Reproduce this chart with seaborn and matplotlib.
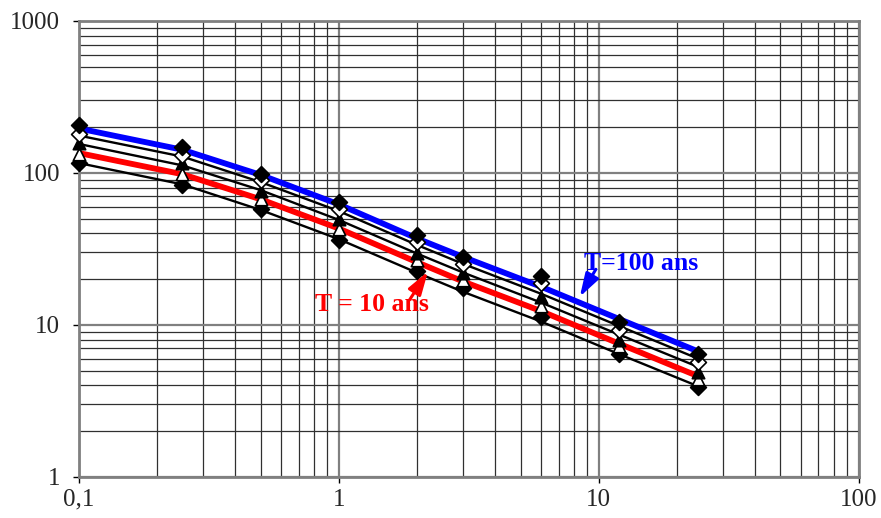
import matplotlib
matplotlib.use("Agg")
import matplotlib.pyplot as plt
import matplotlib.ticker as mticker
import numpy as np
import pandas as pd
import seaborn as sns

# Durées (h) et intensités
durees = [0.1, 0.25, 0.5, 1, 2, 3, 6, 12, 24]

# Points observés (du haut vers le bas)
obs_t100 = [207, 147, 98, 64.6, 39.0, 28.1, 21.0, 10.5, 6.4]
obs_t50 = [180, 131, 90, 57.6, 35.2, 25.1, 18.8, 9.2, 5.7]
obs_t20 = [157, 116, 76, 49.5, 29.8, 21.8, 15.2, 8.0, 4.9]
obs_t10 = [133, 98, 67, 42.6, 26.7, 19.7, 13.2, 7.2, 4.4]
obs_t5 = [116, 83, 58, 36.2, 22.7, 17.4, 11.3, 6.4, 3.9]

# Courbes ajustées
fit_t100 = [196, 142, 97, 62, 37, 28, 17.8, 10.9, 6.7]
fit_t50 = [176, 128, 87, 56, 33.5, 25.2, 16.0, 9.8, 6.0]
fit_t20 = [155, 112, 77, 49, 29.4, 22.1, 14.0, 8.6, 5.3]
fit_t10 = [135, 98, 67, 43, 25.8, 19.3, 12.3, 7.5, 4.6]
fit_t5 = [116, 84, 57, 36.6, 22.0, 16.5, 10.5, 6.4, 3.95]

x_ticks = [0.1, 1, 10, 100]
x_labels = ["0,1", "1", "10", "100"]
y_ticks = [1, 10, 100, 1000]
y_labels = ["1", "10", "100", "1000"]

series = [
    # (fit, obs, line colour, line width, marker, filled)
    (fit_t5, obs_t5, "black", 1.7, "D", True),
    (fit_t10, obs_t10, "#ff0000", 4.2, "^", False),
    (fit_t20, obs_t20, "black", 1.7, "^", True),
    (fit_t50, obs_t50, "black", 1.7, "D", False),
    (fit_t100, obs_t100, "#0000ff", 4.2, "D", True),
]

sns.set_style("white")
plt.rcParams["font.family"] = ["Liberation Serif", "DejaVu Serif"]

fig = plt.figure(figsize=(8.81, 5.18), dpi=100)
ax = fig.add_axes([0.0897, 0.0797, 0.885, 0.8798])

for fit, obs, col, lw, mk, filled in series:
    df_fit = pd.DataFrame({"t": durees, "i": fit})
    sns.lineplot(data=df_fit, x="t", y="i", color=col, lw=lw, ax=ax, zorder=3)

for fit, obs, col, lw, mk, filled in series:
    df_obs = pd.DataFrame({"t": durees, "i": obs})
    sns.scatterplot(
        data=df_obs, x="t", y="i", marker=mk, s=65 if mk == "D" else 80,
        color="black" if filled else "white", edgecolor="black",
        linewidth=1.2, ax=ax, zorder=4, clip_on=False,
    )

ax.set_xscale("log")
ax.set_yscale("log")
ax.set_xlim(0.1, 100)
ax.set_ylim(1, 1000)

ax.xaxis.set_major_locator(mticker.FixedLocator(x_ticks))
ax.xaxis.set_major_formatter(mticker.FixedFormatter(x_labels))
ax.yaxis.set_major_locator(mticker.FixedLocator(y_ticks))
ax.yaxis.set_major_formatter(mticker.FixedFormatter(y_labels))
ax.xaxis.set_minor_locator(mticker.LogLocator(base=10, subs=np.arange(2, 10)))
ax.yaxis.set_minor_locator(mticker.LogLocator(base=10, subs=np.arange(2, 10)))
ax.xaxis.set_minor_formatter(mticker.NullFormatter())
ax.yaxis.set_minor_formatter(mticker.NullFormatter())

ax.grid(True, which="major", color="#808080", lw=1.6, zorder=0)
ax.grid(True, which="minor", color="#303030", lw=0.9, zorder=0)
ax.tick_params(which="major", direction="out", length=4.5, width=1,
               color="black", labelsize=18, pad=4, left=True, bottom=True)
ax.tick_params(axis="y", which="major", pad=9)
ax.tick_params(which="minor", length=0)
for sp in ax.spines.values():
    sp.set_color("#808080")
    sp.set_linewidth(2)

ax.set_xlabel("")
ax.set_ylabel("")

# Annotations
arrow_style = "-|>,head_length=0.7,head_width=0.22"
ax.text(1.34, 13.7, "T = 10 ans", color="#ff0000", fontsize=18.5,
        fontweight="bold", ha="center", va="center", zorder=5)
ax.annotate("", xy=(2.2, 22.4), xytext=(1.87, 14.6),
            arrowprops=dict(arrowstyle=arrow_style, color="#ff0000", lw=2.2,
                            mutation_scale=20, shrinkA=0, shrinkB=0), zorder=5)
ax.text(14.5, 25.3, "T=100 ans", color="#0000ff", fontsize=18.5,
        fontweight="bold", ha="center", va="center", zorder=5)
ax.annotate("", xy=(8.45, 15.3), xytext=(9.74, 23.2),
            arrowprops=dict(arrowstyle=arrow_style, color="#0000ff", lw=2.2,
                            mutation_scale=20, shrinkA=0, shrinkB=0), zorder=5)

fig.savefig("out.png", dpi=100)
